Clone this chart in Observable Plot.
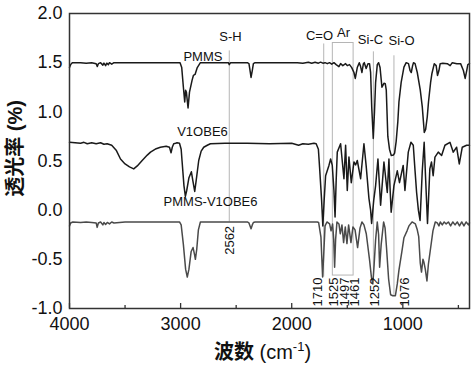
<!DOCTYPE html>
<html><head><meta charset="utf-8">
<script src="https://cdn.jsdelivr.net/npm/d3@7"></script>
<script src="https://cdn.jsdelivr.net/npm/@observablehq/plot@0.6"></script>
<style>body{margin:0;background:#fff}</style>
</head><body><div id="chart"></div>
<script>
// PMMS spectrum (wavenumber cm-1, transmittance offset)
const pmmsWn = [4000,3990,3975,3900,3850,3800,3760,3750,3740,3720,3700,3690,3675,3665,3650,3640,3620,3600,3500,3400,3200,3050,3005,2990,2975,2963,2955,2948,2933,2920,2897,2885,2870,2850,2822,2800,2700,2600,2570,2562,2550,2400,2385,2375,2366,2355,2345,2330,2100,1950,1900,1850,1820,1790,1760,1740,1720,1700,1680,1660,1640,1620,1600,1575,1560,1540,1515,1500,1480,1460,1440,1428,1410,1392,1380,1368,1355,1347,1330,1314,1300,1290,1280,1266,1255,1245,1230,1218,1205,1188,1170,1158,1149,1135,1120,1104,1085,1074,1060,1045,1035,1015,990,970,949,935,924,912,904,890,870,843,825,807,795,780,769,750,738,717,700,688,675,664,640,600,574,555,514,480,455,439,425,415,400];
const pmmsT = [1.45,1.48,1.50,1.50,1.495,1.50,1.49,1.46,1.49,1.50,1.475,1.495,1.47,1.495,1.48,1.50,1.485,1.50,1.50,1.50,1.50,1.50,1.50,1.45,1.25,1.10,1.22,1.20,1.04,1.20,1.32,1.37,1.38,1.45,1.50,1.50,1.50,1.50,1.50,1.48,1.50,1.50,1.49,1.42,1.35,1.42,1.49,1.50,1.50,1.50,1.495,1.505,1.495,1.505,1.495,1.505,1.495,1.50,1.49,1.50,1.485,1.50,1.48,1.46,1.49,1.47,1.49,1.47,1.48,1.45,1.40,1.34,1.45,1.50,1.46,1.40,1.49,1.50,1.44,1.49,1.49,1.40,1.05,0.73,1.00,1.30,1.48,1.50,1.45,1.25,1.29,1.285,1.22,0.75,0.62,0.555,0.56,0.58,0.70,0.90,1.10,1.30,1.455,1.50,1.49,1.42,1.40,1.47,1.50,1.49,1.40,1.22,1.05,0.79,0.82,0.95,1.10,1.30,1.39,1.49,1.47,1.37,1.42,1.49,1.495,1.49,1.47,1.50,1.49,1.49,1.42,1.34,1.42,1.48,1.49];

// V1OBE6 spectrum
const v1Wn = [4000,3950,3900,3870,3840,3800,3760,3720,3690,3661,3620,3580,3541,3500,3460,3422,3390,3346,3300,3271,3220,3182,3130,3100,3086,3075,3062,3045,3032,3010,2995,2987,2970,2957,2945,2925,2903,2890,2873,2860,2837,2815,2792,2760,2732,2600,2562,2400,2200,2000,1938,1900,1850,1800,1780,1760,1749,1731,1720,1708,1695,1665,1650,1635,1620,1610,1600,1590,1560,1530,1515,1500,1485,1464,1440,1425,1410,1380,1350,1330,1305,1290,1281,1262,1245,1224,1200,1170,1140,1125,1120,1105,1080,1050,1030,997,981,951,927,906,890,876,860,845,825,808,796,778,757,742,727,711,681,651,621,576,546,516,492,465,426,400];
const v1T = [0.69,0.685,0.68,0.69,0.675,0.685,0.675,0.685,0.67,0.675,0.66,0.61,0.52,0.47,0.44,0.42,0.45,0.505,0.56,0.59,0.625,0.64,0.65,0.64,0.583,0.64,0.675,0.68,0.685,0.68,0.62,0.50,0.25,0.14,0.20,0.33,0.39,0.30,0.19,0.30,0.505,0.60,0.64,0.66,0.675,0.68,0.68,0.68,0.675,0.68,0.66,0.675,0.67,0.68,0.675,0.62,0.43,0.10,-0.16,0.10,0.35,0.455,0.52,0.455,0.20,-0.07,0.30,0.59,0.675,0.32,0.66,0.20,0.54,0.28,0.49,0.46,0.505,0.32,0.675,0.45,0.12,0.00,-0.135,0.10,0.25,0.52,0.05,0.49,0.18,0.52,0.35,-0.02,0.25,0.40,0.28,0.455,0.20,0.59,0.69,0.66,0.40,0.18,0.00,-0.105,0.40,0.69,0.35,-0.135,0.42,0.49,0.35,0.54,0.59,0.556,0.66,0.69,0.59,0.64,0.47,0.64,0.66,0.66];

// PMMS-V1OBE6 spectrum
const mixWn = [4000,3990,3970,3900,3850,3800,3760,3751,3740,3720,3700,3690,3675,3660,3640,3620,3600,3500,3200,3010,2995,2975,2955,2940,2925,2905,2888,2875,2867,2855,2840,2822,2600,2400,2385,2375,2366,2355,2345,2330,2000,1800,1770,1758,1737,1722,1712,1700,1683,1659,1646,1632,1622,1614,1605,1593,1575,1563,1548,1533,1518,1503,1488,1467,1449,1430,1407,1385,1368,1350,1329,1299,1283,1270,1258,1245,1230,1218,1209,1195,1173,1160,1147,1128,1110,1090,1067,1050,1035,1007,990,962,945,917,887,870,857,843,832,819,810,798,783,770,753,729,708,690,675,663,645,628,610,590,570,550,530,510,490,470,450,430,410,400];
const mixT = [-0.16,-0.13,-0.12,-0.125,-0.12,-0.125,-0.13,-0.175,-0.13,-0.12,-0.15,-0.125,-0.145,-0.125,-0.14,-0.12,-0.13,-0.12,-0.12,-0.12,-0.15,-0.35,-0.60,-0.68,-0.60,-0.42,-0.38,-0.45,-0.50,-0.40,-0.20,-0.12,-0.12,-0.12,-0.13,-0.16,-0.19,-0.15,-0.125,-0.12,-0.12,-0.12,-0.12,-0.125,-0.275,-0.68,-0.45,-0.16,-0.12,-0.14,-0.21,-0.14,-0.30,-0.58,-0.30,-0.12,-0.14,-0.24,-0.15,-0.33,-0.17,-0.34,-0.15,-0.33,-0.17,-0.20,-0.38,-0.18,-0.12,-0.15,-0.24,-0.51,-0.68,-0.75,-0.55,-0.30,-0.12,-0.25,-0.58,-0.35,-0.12,-0.18,-0.38,-0.70,-0.86,-0.87,-0.87,-0.75,-0.61,-0.41,-0.28,-0.21,-0.16,-0.12,-0.14,-0.20,-0.27,-0.54,-0.63,-0.50,-0.53,-0.60,-0.72,-0.55,-0.41,-0.21,-0.12,-0.13,-0.16,-0.12,-0.15,-0.12,-0.14,-0.12,-0.16,-0.12,-0.15,-0.12,-0.16,-0.12,-0.16,-0.12,-0.15,-0.13];

// Band marker lines
const markerWn = [2562, 1712, 1265, 1080];
const markerTop = [1.62, 1.69, 1.61, 1.57];
const markerBottom = [-0.12, -0.68, -0.72, -0.88];
// Aromatic box
const arBox = [{x1: 1630, x2: 1443, y1: -0.665, y2: 1.70}];

// Text labels
const bandNames = ["S-H", "C=O", "Ar", "Si-C", "Si-O"];
const bandX = [2551, 1750, 1534, 1291, 1012];
const bandY = [1.76, 1.776, 1.80, 1.735, 1.72];
const seriesNames = ["PMMS", "V1OBE6", "PMMS-V1OBE6"];
const seriesX = [2799, 2803, 2731];
const seriesY = [1.556, 0.80, 0.08];
const peakNames = ["1710", "1525", "1497", "1461", "1252", "1076"];
const peakX = [1764, 1618, 1522, 1428, 1250, 984];
const shName = ["2562"];
const shX = [2556];

const xMajor = [4000, 3000, 2000, 1000];
const xMinor = [3500, 2500, 1500, 500];
const yTicks = [-1.0, -0.5, 0.0, 0.5, 1.0, 1.5, 2.0];

const toRows = (wn, t) => wn.map((w, i) => ({wn: w, t: t[i]}));
const pmms = toRows(pmmsWn, pmmsT);
const v1 = toRows(v1Wn, v1T);
const mix = toRows(mixWn, mixT);
const markers = markerWn.map((w, i) => ({wn: w, top: markerTop[i], bottom: markerBottom[i]}));
const bands = bandNames.map((n, i) => ({n, x: bandX[i], y: bandY[i]}));
const series = seriesNames.map((n, i) => ({n, x: seriesX[i], y: seriesY[i]}));
const peaks = peakNames.map((n, i) => ({n, x: peakX[i]}));

const font = "Liberation Sans, Arial, Noto Sans CJK SC, sans-serif";
const chart = Plot.plot({
  width: 474, height: 367,
  marginLeft: 69, marginRight: 5, marginTop: 13, marginBottom: 59,
  style: {fontFamily: font, background: "#fff", color: "#111"},
  x: {domain: [4000, 400]},
  y: {domain: [-1, 2]},
  marks: [
    Plot.ruleX(markers, {x: "wn", y1: "bottom", y2: "top", stroke: "#b5b5b5", strokeWidth: 1}),
    Plot.rect(arBox, {x1: "x1", x2: "x2", y1: "y1", y2: "y2", fill: "none", stroke: "#b5b5b5", strokeWidth: 1}),
    Plot.line(pmms, {x: "wn", y: "t", stroke: "#1a1a1a", strokeWidth: 1.5}),
    Plot.line(v1, {x: "wn", y: "t", stroke: "#1a1a1a", strokeWidth: 1.5}),
    Plot.line(mix, {x: "wn", y: "t", stroke: "#4a4a4a", strokeWidth: 1.5}),
    Plot.ruleX(xMajor, {x: d => d, y1: -1, y2: -1 + 5 / 98.33, stroke: "#333", strokeWidth: 1.3}),
    Plot.ruleX(xMinor, {x: d => d, y1: -1, y2: -1 + 3 / 98.33, stroke: "#333", strokeWidth: 1.3}),
    Plot.frame({stroke: "#333", strokeWidth: 1.5}),
    Plot.axisX(xMajor, {tickSize: 0, tickPadding: 9, fontSize: 18, label: null, tickFormat: d => String(d)}),
    Plot.axisY(yTicks, {tickSize: 0, tickPadding: 7, fontSize: 18, label: null, tickFormat: d => d.toFixed(1)}),
    Plot.text(bands, {x: "x", y: "y", text: "n", fontSize: 13, fill: "#111"}),
    Plot.text(series, {x: "x", y: "y", text: "n", fontSize: 13, fill: "#111"}),
    Plot.text(peaks, {x: "x", y: -0.98, text: "n", rotate: -90, textAnchor: "start", fontSize: 13, fill: "#111"}),
    Plot.text(shName, {x: shX, y: -0.16, text: d => d, rotate: -90, textAnchor: "end", fontSize: 13, fill: "#111"}),
    Plot.text(["透光率 (%)"], {x: 4486, y: 0.627, text: d => d, rotate: -90, fontSize: 20, fontWeight: "bold", fill: "#111"}),
    Plot.text(["波数 (cm-1)"], {x: 2263, y: -1.444, text: d => d, fontSize: 20, fill: "#111"})
  ]
});
document.getElementById("chart").append(chart);
// Mixed-weight x-axis title with superscript exponent
d3.select(chart).selectAll("text").filter(function() { return this.textContent === "波数 (cm-1)"; })
  .each(function() {
    const t = d3.select(this);
    t.text(null);
    t.append("tspan").attr("font-weight", "bold").text("波数");
    t.append("tspan").text(" (cm");
    t.append("tspan").attr("font-size", 13).attr("dy", "-0.55em").text("-1");
    t.append("tspan").attr("dy", "0.4em").text(")");
  });
</script>
</body></html>
